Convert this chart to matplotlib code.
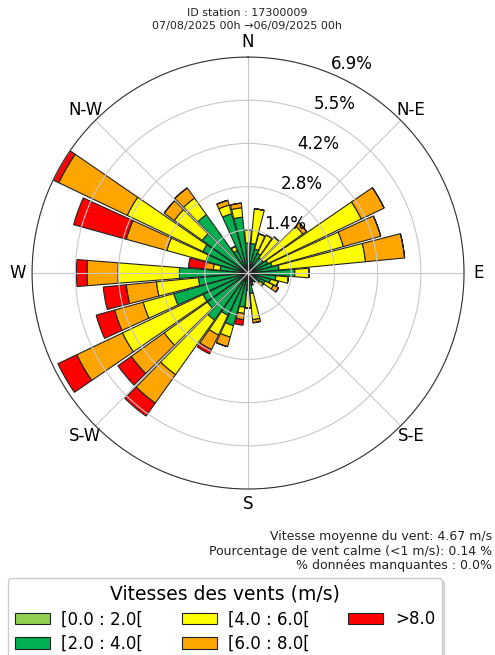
import numpy as np
import matplotlib.pyplot as plt

# wind directions (degrees, from north, clockwise) - 36 sectors
directions = np.arange(0, 360, 10)

# frequency (%) per speed class and per direction
v_0_2 = [0.05] * 36
v_2_4 = [0.91, 0.90, 0.75, 0.65, 0.55, 0.55, 0.65, 0.75, 0.95, 1.45,
         0.85, 0.70, 0.55, 0.40, 0.30, 0.25, 0.23, 0.61, 0.50, 1.05,
         1.70, 1.45, 1.80, 1.55, 1.55, 2.42, 1.55, 2.15, 0.85, 1.35,
         1.55, 1.75, 2.25, 0.75, 1.92, 1.75]
v_4_6 = [0.42, 1.12, 0.50, 0.65, 0.82, 1.55, 3.32, 2.37, 2.78, 0.45,
         0.40, 0.25, 0.30, 0.15, 0.00, 0.00, 0.00, 0.84, 0.57, 0.20,
         0.38, 0.70, 2.15, 1.70, 2.86, 1.02, 1.35, 1.97, 0.22, 1.30,
         2.69, 1.10, 0.65, 0.15, 0.29, 0.30]
v_6_8 = [0.00, 0.00, 0.00, 0.00, 0.00, 0.15, 0.81, 1.24, 1.26, 0.00,
         0.00, 0.00, 0.18, 0.00, 0.00, 0.00, 0.02, 0.10, 0.00, 0.20,
         0.32, 0.52, 1.12, 1.30, 1.62, 0.95, 0.97, 0.99, 0.26, 1.35,
         2.43, 0.40, 0.40, 0.00, 0.16, 0.15]
v_8 = [0.00, 0.00, 0.00, 0.00, 0.00, 0.00, 0.00, 0.00, 0.00, 0.00,
       0.00, 0.00, 0.00, 0.00, 0.00, 0.00, 0.11, 0.00, 0.00, 0.18,
       0.00, 0.15, 0.51, 0.52, 0.67, 0.61, 0.74, 0.34, 0.54, 1.75,
       0.20, 0.00, 0.00, 0.00, 0.00, 0.00]

bins = [v_0_2, v_2_4, v_4_6, v_6_8, v_8]
labels = ['[0.0 : 2.0[', '[2.0 : 4.0[', '[4.0 : 6.0[', '[6.0 : 8.0[', '>8.0']
colors = ['#92d050', '#00b050', '#ffff00', '#ffa500', '#ff0000']
cardinals = ['N', 'N-E', 'E', 'S-E', 'S', 'S-W', 'W', 'N-W']

fig = plt.figure(figsize=(4.95, 6.55), dpi=100)
ax = fig.add_axes([0.0646, 0.2534, 0.873, 0.6595], projection='polar')
ax.set_theta_zero_location('N')
ax.set_theta_direction(-1)

theta = np.radians(directions)
width = np.radians(10) * 0.9
offset = np.zeros(36)
handles = []
for vals, col, lab in zip(bins, colors, labels):
    vals = np.array(vals)
    b = ax.bar(theta, vals, width=width, bottom=offset, color=col,
               edgecolor='#222222', linewidth=0.8, label=lab)
    handles.append(b)
    offset = offset + vals

rmax = offset.max()
ax.set_ylim(0, rmax)
radii = np.linspace(0, rmax, 6)[1:]
ax.set_rgrids(radii, labels=['%.1f%%' % r for r in radii], angle=22.5,
              fontsize=12)
ax.set_thetagrids(np.arange(0, 360, 45), labels=cardinals, fontsize=12)
ax.tick_params(axis='x', pad=0)
ax.grid(color='#c8c8c8')
ax.spines['polar'].set_color('#333333')

fig.text(0.5, 1 - 19.5 / 655,
         'ID station : 17300009\n07/08/2025 00h \u219206/09/2025 00h',
         ha='center', va='center', fontsize=8, color='#222222',
         linespacing=1.3)

fig.text(0.994, 1 - 530 / 655,
         'Vitesse moyenne du vent: 4.67 m/s\n'
         'Pourcentage de vent calme (<1 m/s): 0.14 %\n'
         '% donn\u00e9es manquantes : 0.0%',
         ha='right', va='top', fontsize=9, color='#222222', linespacing=1.15)

fig.legend(handles=handles, labels=labels, loc='upper left',
           bbox_to_anchor=(8 / 495, 1 - 578 / 655), borderaxespad=0,
           ncol=3, fontsize=12, handlelength=2.1, handletextpad=0.7,
           columnspacing=2.3, labelspacing=0.4,
           title='Vitesses des vents (m/s)', title_fontsize=13.5,
           shadow={'color': '0.75'})

fig.savefig('out.png', dpi=100)
